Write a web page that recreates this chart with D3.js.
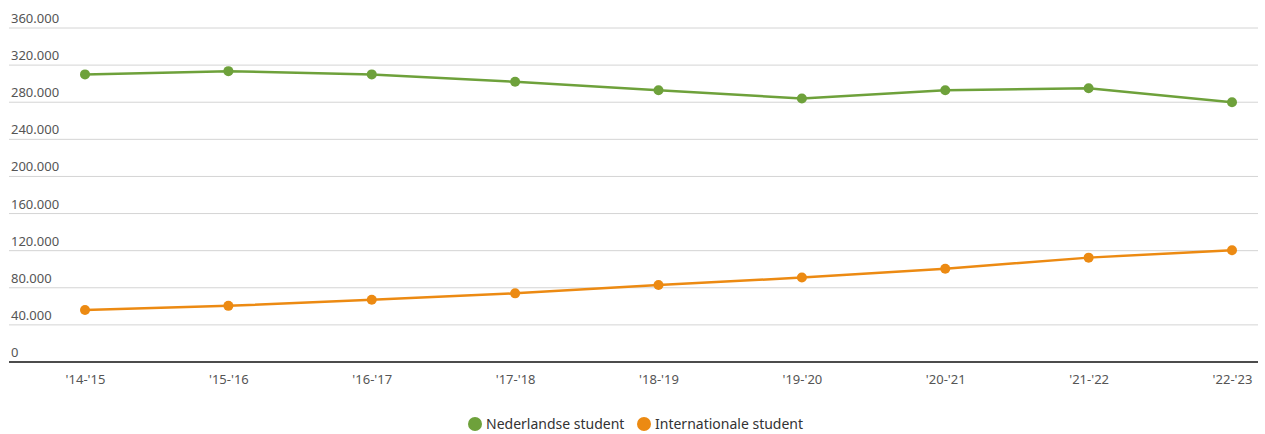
<!DOCTYPE html>
<html>
<head>
<meta charset="utf-8">
<script src="https://cdn.jsdelivr.net/npm/d3@7"></script>
<style>
  html, body { margin: 0; padding: 0; background: #fff; }
  svg { display: block; font-family: "Noto Sans", "Open Sans", sans-serif; }
</style>
</head>
<body>
<svg id="chart" width="1265" height="434"></svg>
<script>
const categories = ["'14-'15", "'15-'16", "'16-'17", "'17-'18", "'18-'19", "'19-'20", "'20-'21", "'21-'22", "'22-'23"];
const nederlandse = [310000, 313500, 310000, 302000, 293000, 284000, 293000, 295000, 280000];
const internationale = [56000, 60500, 67000, 74000, 83000, 91000, 100500, 112500, 120500];
const seriesNames = ["Nederlandse student", "Internationale student"];
const seriesColors = ["#6ea13b", "#ec8a12"];
const yTicks = [0, 40000, 80000, 120000, 160000, 200000, 240000, 280000, 320000, 360000];

const svg = d3.select("#chart");
const gridLeft = 9, gridRight = 1258;
const y = d3.scaleLinear().domain([0, 360000]).range([362, 28]);
const x = d3.scalePoint().domain(categories).range([85, 1232]);
const fmt = v => d3.format(",")(v).replace(/,/g, ".");

// gridlines
const grid = svg.append("g");
grid.selectAll("line").data(yTicks.filter(d => d > 0)).join("line")
  .attr("x1", gridLeft).attr("x2", gridRight)
  .attr("y1", d => y(d)).attr("y2", d => y(d))
  .attr("stroke", "#d4d4d4").attr("stroke-width", 1);
grid.selectAll("text").data(yTicks).join("text")
  .attr("x", 11).attr("y", d => y(d) - 5)
  .attr("font-size", 13).attr("fill", "#555")
  .text(d => fmt(d));

// x axis
const xAxis = d3.axisBottom(x).tickSize(0).tickPadding(13);
const gx = svg.append("g").attr("transform", `translate(0,${y(0)})`).call(xAxis);
gx.select(".domain").remove();
gx.selectAll("text").attr("font-size", 13).attr("fill", "#555").attr("font-family", "Noto Sans, sans-serif");
svg.append("line").attr("x1", gridLeft).attr("x2", gridRight)
  .attr("y1", y(0)).attr("y2", y(0)).attr("stroke", "#111").attr("stroke-width", 1.5);

// lines
const data = [nederlandse, internationale];
const line = d3.line().x((d, i) => x(categories[i])).y(d => y(d));
data.forEach((vals, si) => {
  svg.append("path").datum(vals)
    .attr("d", line).attr("fill", "none")
    .attr("stroke", seriesColors[si]).attr("stroke-width", 2.5);
  svg.append("g").selectAll("circle").data(vals).join("circle")
    .attr("cx", (d, i) => x(categories[i])).attr("cy", d => y(d))
    .attr("r", 5).attr("fill", seriesColors[si]);
});

// legend
const legend = svg.append("g");
const legendX = [475, 644];
seriesNames.forEach((name, i) => {
  legend.append("circle").attr("cx", legendX[i]).attr("cy", 424).attr("r", 7).attr("fill", seriesColors[i]);
  legend.append("text").attr("x", legendX[i] + 11).attr("y", 429)
    .attr("font-size", 14).attr("fill", "#333").text(name);
});
</script>
</body>
</html>
